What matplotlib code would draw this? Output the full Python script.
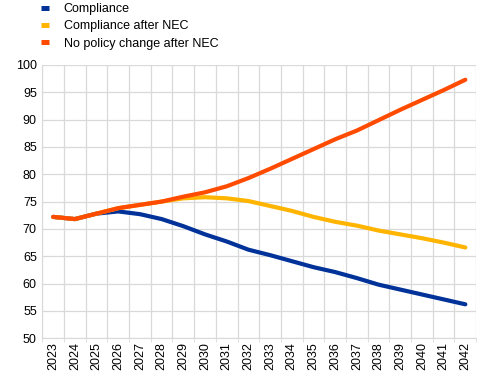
import matplotlib

matplotlib.use("Agg")
import matplotlib.pyplot as plt
import numpy as np

plt.rcParams["font.family"] = ["Liberation Sans", "DejaVu Sans"]

years = [str(y) for y in range(2023, 2043)]
compliance = [72.2, 71.8, 72.8, 73.2, 72.7, 71.8, 70.5, 69.0, 67.7, 66.2,
              65.2, 64.1, 63.0, 62.1, 61.0, 59.8, 58.9, 58.0, 57.1, 56.2]
compliance_nec = [72.2, 71.8, 72.8, 73.8, 74.4, 75.0, 75.6, 75.8, 75.6, 75.1,
                  74.2, 73.3, 72.2, 71.3, 70.6, 69.7, 69.0, 68.3, 67.5, 66.6]
no_policy_nec = [72.2, 71.8, 72.8, 73.8, 74.4, 75.0, 75.9, 76.7, 77.8, 79.3,
                 81.0, 82.8, 84.6, 86.4, 88.0, 89.9, 91.8, 93.6, 95.4, 97.3]

series = [
    ("Compliance", compliance, "#003299"),
    ("Compliance after NEC", compliance_nec, "#FFB400"),
    ("No policy change after NEC", no_policy_nec, "#FF4B00"),
]

fig = plt.figure(figsize=(4.81, 3.80), dpi=100)
ax = fig.add_axes([0.088, 0.11, 0.902, 0.719])

x = np.arange(len(years))
for label, vals, color in series:
    ax.plot(x, vals, color=color, linewidth=3.0, solid_capstyle="round",
            solid_joinstyle="round", label=label)

ax.set_xlim(-0.5, len(years) - 0.5)
ax.set_ylim(50, 100)
ax.set_yticks(np.arange(50, 101, 5))
ax.set_xticks(x)
ax.set_xticklabels(years, rotation=90)
ax.set_xticks(np.arange(-0.5, len(years)), minor=True)

ax.grid(True, which="major", axis="y", color="#d9d9d9", linewidth=0.9)
ax.grid(True, which="minor", axis="x", color="#d9d9d9", linewidth=0.9)
ax.set_axisbelow(True)
ax.tick_params(axis="x", which="major", length=0, labelsize=9, pad=3)
ax.tick_params(axis="x", which="minor", length=3, color="#d9d9d9")
ax.tick_params(axis="y", length=0, labelsize=9, pad=4)
for side in ("top", "right"):
    ax.spines[side].set_visible(False)
ax.spines["left"].set_color("#d9d9d9")
ax.spines["bottom"].set_color("#d9d9d9")

leg = fig.legend(loc="upper left", bbox_to_anchor=(0.075, 1.005), frameon=False,
                 fontsize=9, handlelength=0.65, handletextpad=1.15,
                 labelspacing=0.42, borderaxespad=0)
for h in leg.get_lines():
    h.set_linewidth(3.6)
    h.set_solid_capstyle("butt")

fig.savefig("out.png", dpi=100)
